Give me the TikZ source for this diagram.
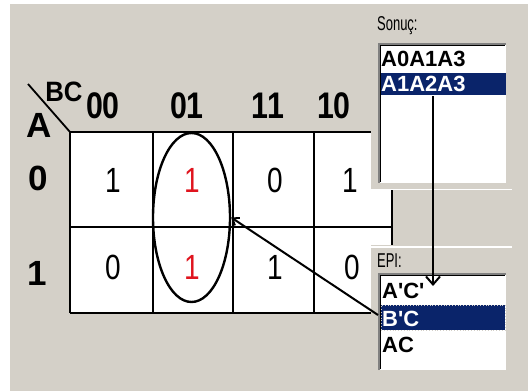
\documentclass[tikz,border=0pt]{standalone}
\usepackage{fontspec}
\setmainfont{Liberation Sans}
\newfontfamily\listfont{Liberation Sans}
\usetikzlibrary{arrows.meta,shapes.geometric}
\definecolor{wingray}{HTML}{D4D0C8}
\definecolor{winnavy}{HTML}{0A246A}
\definecolor{kred}{HTML}{E0141E}
\definecolor{edgegray}{HTML}{808080}
\tikzset{
  hdr/.style={font=\fontsize{37}{37}\bfseries\selectfont, xscale=0.82, inner sep=0pt},
  lbl/.style={font=\fontsize{35}{35}\bfseries\selectfont, inner sep=0pt},
  cell/.style={font=\fontsize{35}{35}\selectfont, xscale=0.8, inner sep=0pt},
  redcell/.style={cell, text=kred},
  item/.style={font=\listfont\fontsize{22}{22}\bfseries\selectfont, inner sep=0pt, anchor=west},
  selitem/.style={item, text=white},
  panelcap/.style={font=\fontsize{20}{20}\selectfont, xscale=0.65, inner sep=0pt, anchor=west},
  gridline/.style={line width=1.8pt, black},
  arr/.style={line width=2.2pt, -{Straight Barb[length=8pt,width=14pt,line width=2pt]}},
  arrsmall/.style={line width=2pt, -{Straight Barb[length=6pt,width=9pt,line width=1.8pt]}},
  listbox/.style={fill=white, draw=none},
}
\begin{document}
\begin{tikzpicture}[x=1pt,y=-1pt]
\useasboundingbox (0,0) rectangle (528,391);
\fill[white] (0,0) rectangle (528,391);
\fill[wingray] (10,4) rectangle (528,391);
% grid
\fill[white] (70,132) rectangle (392,313);
\draw[gridline] (70,132) -- (392,132);
\draw[gridline] (70,227) -- (392,227);
\draw[gridline] (70,313) -- (392,313);
\draw[gridline] (70,132) -- (70,313);
\draw[gridline] (153,132) -- (153,313);
\draw[gridline] (233,132) -- (233,313);
\draw[gridline] (314,132) -- (314,313);
\draw[gridline] (392,132) -- (392,313);
\draw[line width=1.8pt] (28,84) -- (70,132);
% headers
\node[hdr] (h00) at (103,106) {00};
\node[hdr] (h01) at (187,106) {01};
\node[hdr] (h11) at (268,106) {11};
\node[hdr] (h10) at (334,106) {10};
\node[font=\fontsize{28}{28}\bfseries\selectfont, xscale=0.92, inner sep=0pt] (bc) at (64,92) {BC};
\node[lbl] (a) at (39,125) {A};
\node[lbl] (r0) at (38,178) {0};
\node[lbl] (r1) at (37,273) {1};
% cells
\node[cell] (c00) at (113,180) {1};
\node[redcell] (c01) at (192,180) {1};
\node[cell] (c11) at (275,180) {0};
\node[cell] (c10) at (350,180) {1};
\node[cell] (d00) at (113,267) {0};
\node[redcell] (d01) at (192,267) {1};
\node[cell] (d11) at (275,267) {1};
\node[cell] (d10) at (352,267) {0};
% ellipse
\node[ellipse, draw, line width=2.4pt, minimum width=77pt, minimum height=169pt, inner sep=0pt] (ell) at (191.5,217.5) {};
% Sonuc panel
\fill[wingray] (371,4) rectangle (528,190);
\draw[white, line width=1pt] (371,189.5) -- (512,189.5);
\node[panelcap] (sonuc) at (377,26) {Sonuç:};
\fill[listbox] (378,43) rectangle (506,183);
\draw[edgegray, line width=2pt] (379,183) -- (379,44) -- (506,44);
\draw[black, line width=0.8pt] (380.5,182) -- (380.5,45.5) -- (505,45.5);
\node[item] (s1) at (381,59) {A0A1A3};
\node[fill=winnavy, minimum width=125pt, minimum height=22pt, inner sep=0pt, anchor=west] (sbar) at (381,84) {};
\node[selitem] (s2) at (381,84) {A1A2A3};
% EPI panel
\fill[wingray] (371,245) rectangle (528,391);
\draw[white, line width=1.2pt] (371,247) -- (512,247);
\node[panelcap] (epi) at (377,261) {EPI:};
\fill[listbox] (378,273) rectangle (506,370);
\draw[edgegray, line width=2pt] (379,370) -- (379,274) -- (506,274);
\draw[black, line width=0.8pt] (380.5,369) -- (380.5,275.5) -- (505,275.5);
\node[item] (e1) at (382,291) {A'C'};
\node[fill=winnavy, draw=wingray, dotted, line width=0.8pt, minimum width=124pt, minimum height=25pt, inner sep=0pt, anchor=west] (ebar) at (381,317.5) {};
\node[selitem] (e2) at (382,319) {B'C};
\node[item] (e3) at (382,345) {AC};
% connectors
\coordinate (stop) at (433,96);
\coordinate (etop) at (433,286);
\draw[arr] (stop) -- (etop);
\draw[arrsmall] ([xshift=-3pt,yshift=2.5pt]ebar.west) -- (ell.east);
\end{tikzpicture}
\end{document}
